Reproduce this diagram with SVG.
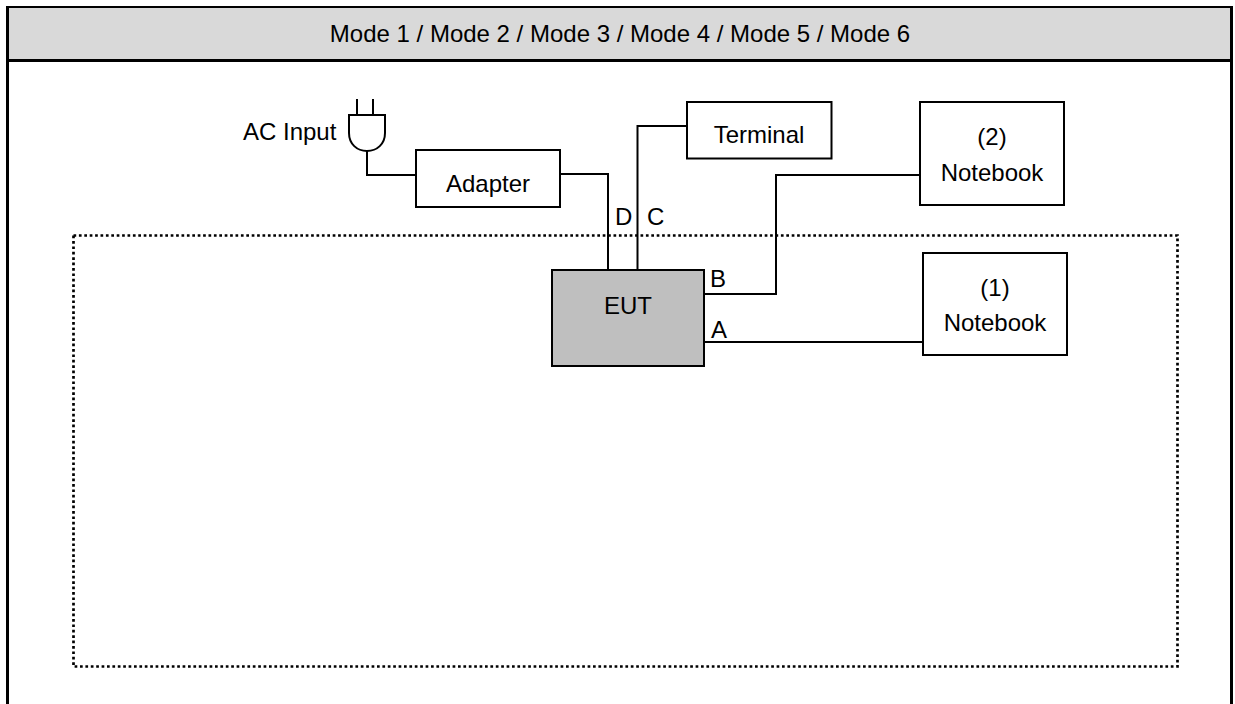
<svg xmlns="http://www.w3.org/2000/svg" width="1235" height="704" viewBox="0 0 1235 704">
<style>
text{font-family:"Liberation Sans",Arial,sans-serif;font-size:24px;fill:#000}
.m{text-anchor:middle}
.b{fill:#fff;stroke:#000;stroke-width:2}
.w{fill:none;stroke:#000;stroke-width:2}
</style>
<rect width="1235" height="704" fill="#fff"/>
<g id="frame">
<rect x="8" y="7" width="1223" height="53" fill="#d9d9d9"/>
<path d="M6 7H1233" fill="none" stroke="#000" stroke-width="2"/>
<path d="M7.500 704V6M7.500 60.500H1233M1231.500 6V704" fill="none" stroke="#000" stroke-width="3"/>
<text class="m" x="620" y="42">Mode 1 / Mode 2 / Mode 3 / Mode 4 / Mode 5 / Mode 6</text>
</g>
<rect id="boundary" x="73.500" y="235.500" width="1104" height="431" fill="none" stroke="#000" stroke-width="2.700" stroke-dasharray="2.700 2.700"/>
<g id="connectors">
<path class="w" d="M367 151V175H416"/>
<path class="w" d="M560 174H608V269"/>
<path class="w" d="M637.500 269V126H687"/>
<path class="w" d="M704 294H776V175H920"/>
<path class="w" d="M704 342H923"/>
</g>
<g id="plug">
<path class="w" d="M357 99V115M373 99V115M349 115H385V133C385 144 377 151 367 151C357 151 349 144 349 133Z"/>
<text x="243" y="140">AC Input</text>
</g>
<g id="adapter"><rect class="b" x="416" y="150" width="144" height="57"/><text class="m" x="488" y="192">Adapter</text></g>
<g id="terminal"><rect class="b" x="687" y="102" width="144.500" height="56.500"/><text class="m" x="759" y="143">Terminal</text></g>
<g id="notebook2"><rect class="b" x="920" y="102" width="144" height="103"/><text class="m" x="992" y="145">(2)</text><text class="m" x="992" y="181">Notebook</text></g>
<g id="notebook1"><rect class="b" x="923" y="253" width="144" height="102"/><text class="m" x="995" y="296">(1)</text><text class="m" x="995" y="331">Notebook</text></g>
<g id="eut"><rect x="552" y="270" width="152" height="96" fill="#bfbfbf" stroke="#000" stroke-width="2"/><text class="m" x="628" y="314">EUT</text></g>
<g id="labels">
<text x="615" y="225">D</text><text x="647" y="225">C</text><text x="710" y="287">B</text><text x="711" y="338">A</text>
</g>
</svg>
